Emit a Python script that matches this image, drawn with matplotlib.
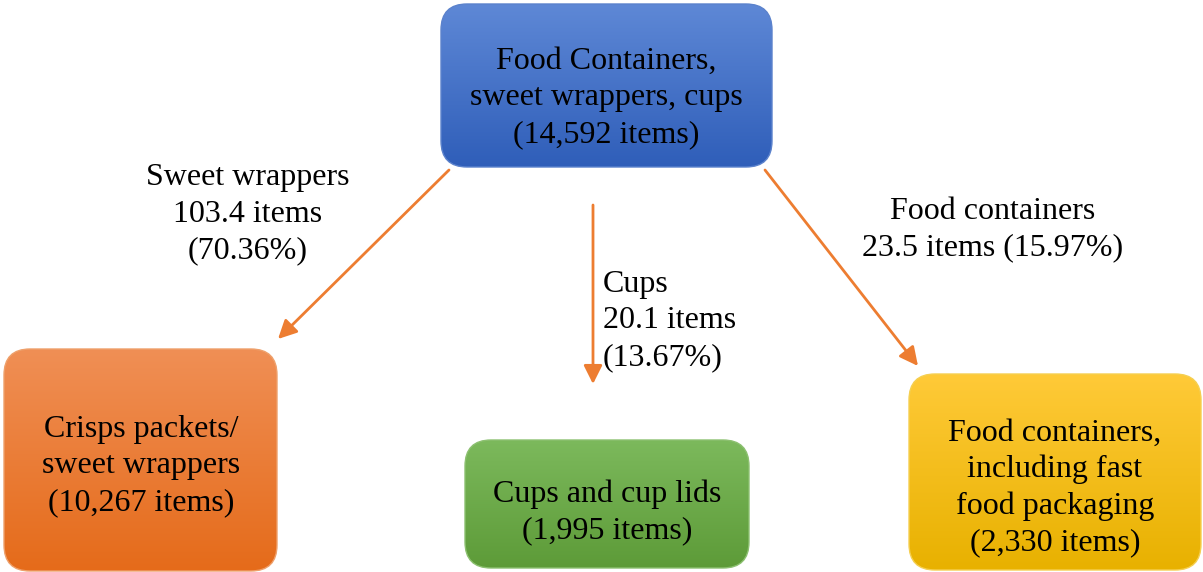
import numpy as np
import matplotlib
matplotlib.use("Agg")
import matplotlib.pyplot as plt
from matplotlib.patches import FancyBboxPatch, FancyArrowPatch
from matplotlib.colors import LinearSegmentedColormap

# ---- data ----
root_label = "Food Containers,\nsweet wrappers, cups"
root_items = "14,592"
child_labels = ["Crisps packets/\nsweet wrappers", "Cups and cup lids",
                "Food containers,\nincluding fast\nfood packaging"]
child_items = ["10,267", "1,995", "2,330"]
edge_names = ["Sweet wrappers", "Cups", "Food containers"]
edge_items = [103.4, 20.1, 23.5]
edge_pcts = [70.36, 13.67, 15.97]

W, H = 1203, 572
fig = plt.figure(figsize=(W / 100, H / 100), dpi=100)
ax = fig.add_axes([0, 0, 1, 1])
ax.set_xlim(0, W)
ax.set_ylim(H, 0)
ax.axis("off")

FONT = "Liberation Serif"
FS = 23
LS = 1.33


def gbox(x0, y0, x1, y1, ctop, cbot, edge, r=26):
    p = FancyBboxPatch((x0 + r, y0 + r), (x1 - x0) - 2 * r, (y1 - y0) - 2 * r,
                       boxstyle=f"round,pad={r},rounding_size={r}",
                       facecolor="none", edgecolor=edge, linewidth=1.0, zorder=3)
    ax.add_patch(p)
    cmap = LinearSegmentedColormap.from_list("g", [ctop, cbot])
    grad = np.linspace(0, 1, 256).reshape(-1, 1)
    im = ax.imshow(grad, cmap=cmap, extent=(x0, x1, y1, y0), aspect="auto",
                   origin="upper", zorder=2, interpolation="bilinear")
    im.set_clip_path(p)


# root box
gbox(441, 4, 772, 167, "#5e88d6", "#2f5eb9", "#5b82cc")
ax.text(606, 98, root_label + f"\n({root_items} items)", ha="center", va="center",
        fontsize=FS, family=FONT, linespacing=LS, zorder=4)

# child boxes
child_boxes = [(4, 349, 277, 571), (465, 440, 749, 568), (909, 374, 1201, 570)]
child_text_pos = [(141, 466), (607, 512), (1055, 488)]
child_cols = [("#f08f55", "#e56b1a", "#eea06b"),
              ("#7cb95c", "#5d9b38", "#8cc070"),
              ("#ffca38", "#e8b100", "#f5cf50")]
for (x0, y0, x1, y1), (tx, ty), (ct, cb, ce), lab, it in zip(
        child_boxes, child_text_pos, child_cols, child_labels, child_items):
    gbox(x0, y0, x1, y1, ct, cb, ce)
    ax.text(tx, ty, lab + f"\n({it} items)",
            ha="center", va="center", fontsize=FS, family=FONT, linespacing=LS, zorder=4)

# arrows
arrows = [((449, 170), (278, 339)), ((593, 205), (593, 384)), ((765, 170), (918, 366))]
for (s, e) in arrows:
    a = FancyArrowPatch(s, e, arrowstyle="-|>", mutation_scale=28,
                        color="#ed7d31", linewidth=2.0, shrinkA=0, shrinkB=0, zorder=5)
    ax.add_patch(a)

# edge labels
ax.text(248, 214, f"{edge_names[0]}\n{edge_items[0]} items\n({edge_pcts[0]:.2f}%)",
        ha="center", va="center", fontsize=FS, family=FONT, linespacing=LS)
ax.text(603, 321, f"{edge_names[1]}\n{edge_items[1]} items\n({edge_pcts[1]:.2f}%)",
        ha="left", va="center", fontsize=FS, family=FONT, linespacing=LS)
ax.text(993, 230, f"{edge_names[2]}\n{edge_items[2]} items ({edge_pcts[2]:.2f}%)",
        ha="center", va="center", fontsize=FS, family=FONT, linespacing=LS)

fig.savefig("out.png", dpi=100)
